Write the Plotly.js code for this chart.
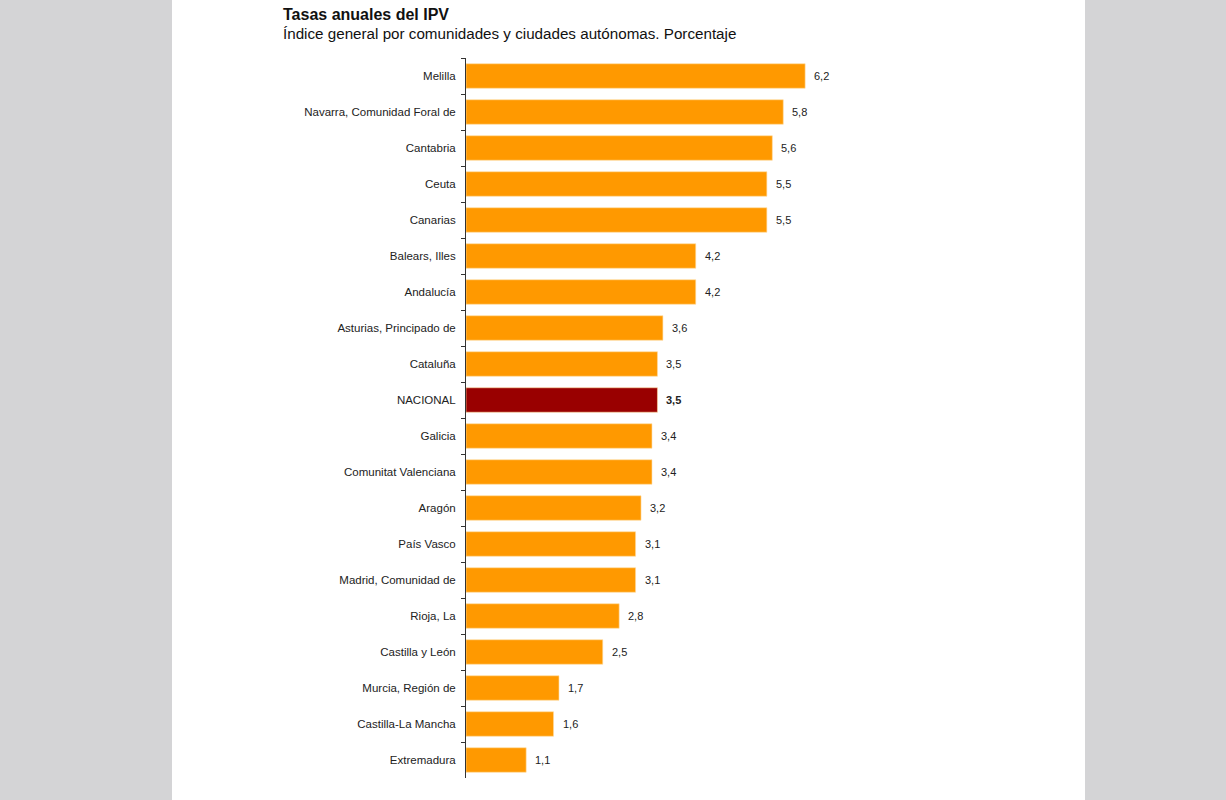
<!DOCTYPE html>
<html>
<head>
<meta charset="utf-8">
<script src="https://cdn.plot.ly/plotly-3.0.1.min.js"></script>
<style>
html,body{margin:0;padding:0;background:#d4d4d6;width:1226px;height:800px;overflow:hidden;}
#chart{position:absolute;left:172px;top:0;width:913px;height:800px;background:#fff;}
</style>
</head>
<body>
<div id="chart"></div>
<script>
const titleText = "Tasas anuales del IPV";
const subtitleText = "Índice general por comunidades y ciudades autónomas. Porcentaje";
const regions = ["Melilla","Navarra, Comunidad Foral de","Cantabria","Ceuta","Canarias","Balears, Illes","Andalucía","Asturias, Principado de","Cataluña","NACIONAL","Galicia","Comunitat Valenciana","Aragón","País Vasco","Madrid, Comunidad de","Rioja, La","Castilla y León","Murcia, Región de","Castilla-La Mancha","Extremadura"];
const values = [6.2,5.8,5.6,5.5,5.5,4.2,4.2,3.6,3.5,3.5,3.4,3.4,3.2,3.1,3.1,2.8,2.5,1.7,1.6,1.1];
const nationalLabel = "NACIONAL";

const FONT = "Liberation Sans, Arial, sans-serif";
const colors = regions.map(r => r === nationalLabel ? "#990000" : "#FF9900");
const fmt = v => v.toFixed(1).replace(".", ",");

const trace = {
  type: "bar",
  orientation: "h",
  y: regions,
  x: values,
  marker: {color: colors, line: {color: "rgba(255,220,160,0.6)", width: 1}},
  hoverinfo: "none"
};

const annotations = regions.map((r, i) => ({
  x: values[i], y: r, xref: "x", yref: "y",
  text: r === nationalLabel ? "<b>" + fmt(values[i]) + "</b>" : fmt(values[i]),
  showarrow: false, xanchor: "left", xshift: 7,
  font: {family: FONT, size: 11, color: "#222"}
}));

const plotLeft = 294, plotW = 547, plotTop = 58, plotH = 720;
annotations.push({
  xref: "paper", yref: "paper", x: (109 - plotLeft) / plotW, y: 1 + (plotTop - 15) / plotH,
  xanchor: "left", yanchor: "middle", showarrow: false,
  text: "<b>" + titleText + "</b>", font: {family: FONT, size: 16, color: "#111"}
});
annotations.push({
  xref: "paper", yref: "paper", x: (109 - plotLeft) / plotW, y: 1 + (plotTop - 34) / plotH,
  xanchor: "left", yanchor: "middle", showarrow: false,
  text: subtitleText, font: {family: FONT, size: 15.2, color: "#111"}
});

const layout = {
  width: 913, height: 800,
  paper_bgcolor: "#ffffff", plot_bgcolor: "#ffffff",
  margin: {l: plotLeft, r: 913 - plotLeft - plotW, t: plotTop, b: 800 - plotTop - plotH},
  showlegend: false,
  bargap: 0.32,
  xaxis: {range: [0, 10], visible: false, fixedrange: true},
  yaxis: {
    autorange: "reversed", type: "category",
    showline: true, linecolor: "#333", linewidth: 1,
    ticks: "outside", tickson: "boundaries", ticklen: 4, tickcolor: "#333",
    ticklabelstandoff: 7,
    tickfont: {family: FONT, size: 11.5, color: "#222"},
    showgrid: false, zeroline: false
  },
  annotations: annotations
};

Plotly.newPlot("chart", [trace], layout, {displayModeBar: false, staticPlot: true});
</script>
</body>
</html>
